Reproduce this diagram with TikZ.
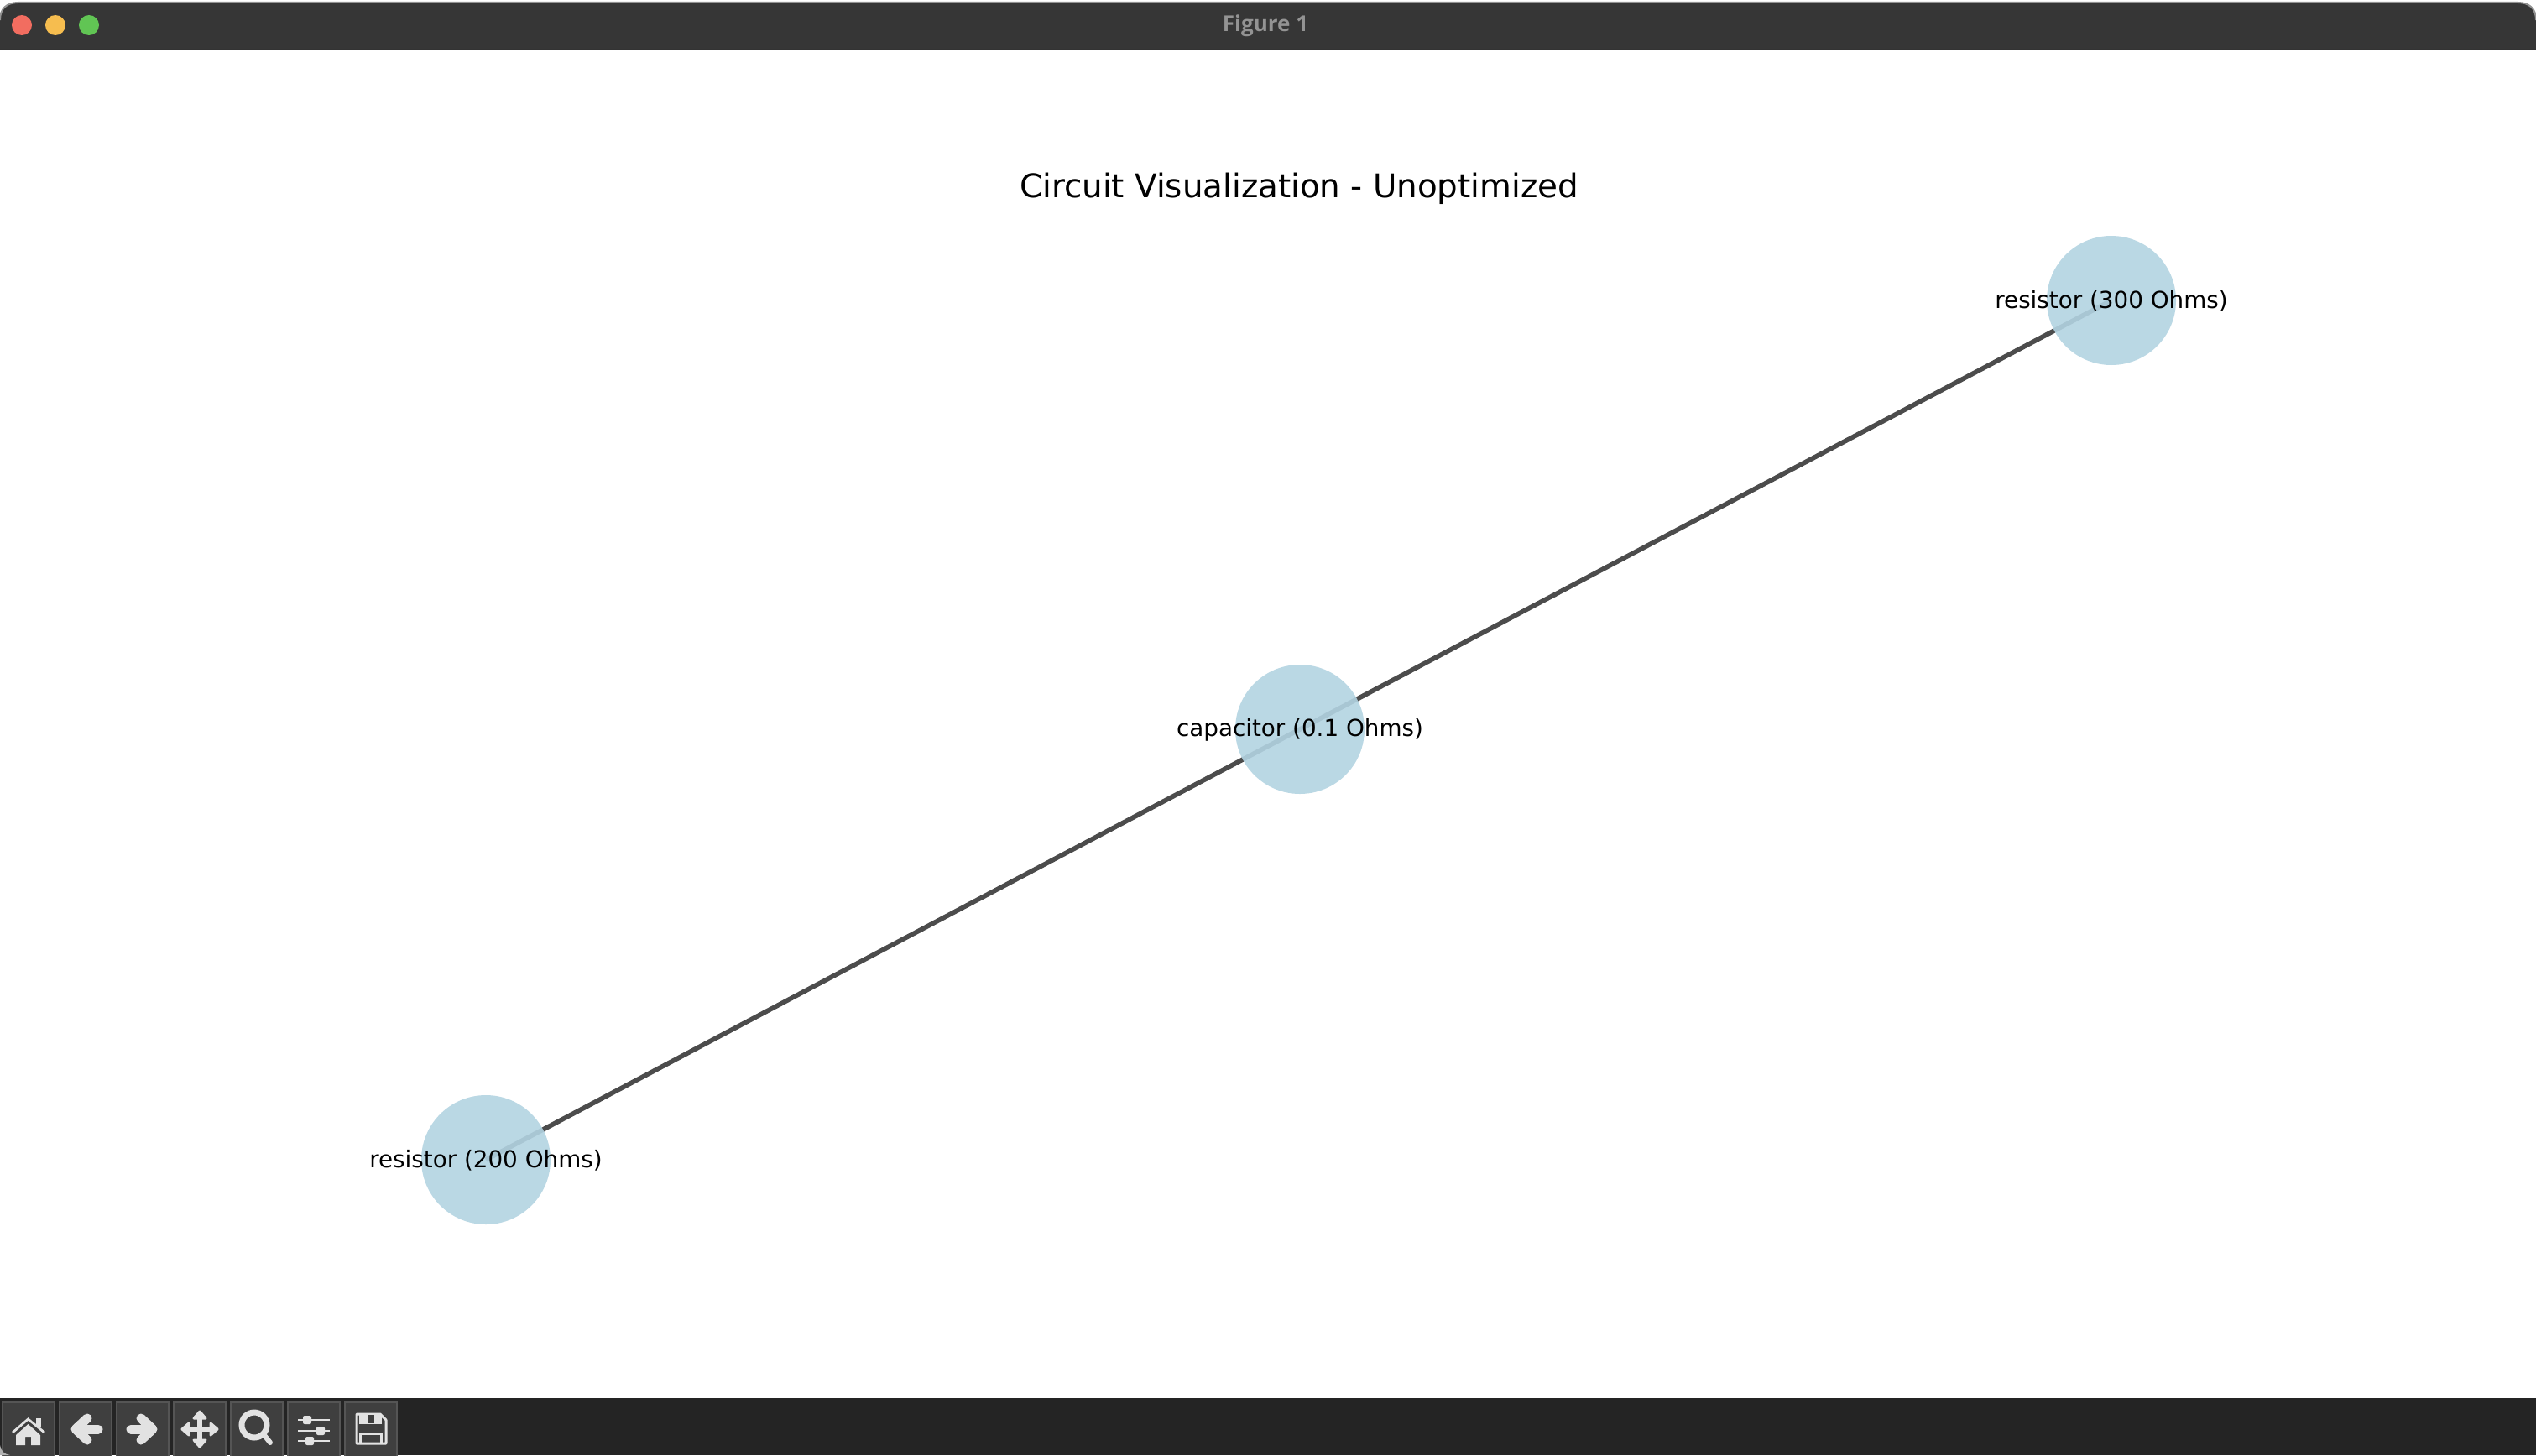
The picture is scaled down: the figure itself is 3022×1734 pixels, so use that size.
\documentclass[tikz,border=0pt]{standalone}
\usepackage{fontspec}
\setmainfont{DejaVu Sans}
\newfontfamily\uifont{Open Sans}
\usetikzlibrary{backgrounds}
\definecolor{barc}{HTML}{363636}
\definecolor{toolc}{HTML}{242424}
\definecolor{btnc}{HTML}{3F3F3F}
\definecolor{btnb}{HTML}{555555}
\definecolor{iconc}{HTML}{E2E2E2}
\definecolor{edgec}{HTML}{4C4C4C}
\definecolor{nodec}{HTML}{B3D4E2}
\definecolor{lampr}{HTML}{F26D60}
\definecolor{lampy}{HTML}{F6BD4F}
\definecolor{lampg}{HTML}{61C554}
\tikzset{
  x=0.5pt,y=-0.5pt,
  vertex/.style={circle,inner sep=0pt,minimum size=77pt,fill=nodec,fill opacity=0.9,draw=none},
  vlabel/.style={inner sep=0pt,yshift=-0.5pt,font=\fontsize{13.9}{14}\selectfont,text=black},
  wire/.style={draw=edgec,line width=2.8pt},
  btn/.style={fill=btnc,draw=btnb,line width=0.7pt},
  icon/.style={fill=iconc,draw=none},
  arrowicon/.style={draw=iconc,line width=5.5pt,line cap=round,line join=round},
  headicon/.style={fill=iconc,draw=iconc,line width=1.5pt,line join=round},
  sliderline/.style={draw=iconc,line width=1.3pt},
  knob/.style={fill=iconc,rounded corners=1pt},
}
\begin{document}
\begin{tikzpicture}
\useasboundingbox (0,0) rectangle (3022,1734);
\begin{scope}[on background layer]
\fill[white] (0,0) rectangle (3022,1734);
\end{scope}
% title bar
\fill[barc] (0,58) -- (0,24) .. controls (0,10) and (8,3) .. (22,3) -- (3000,3) .. controls (3014,3) and (3022,10) .. (3022,24) -- (3022,58) -- cycle;
\draw[gray!85,line width=1pt] (0,24) .. controls (0,10) and (8,3) .. (22,3) -- (3000,3) .. controls (3014,3) and (3022,10) .. (3022,24);
\draw[black!80,line width=0.8pt] (0,58.5) -- (3022,58.5);
\fill[lampr] (26,30) circle[radius=12];
\fill[lampy] (66,30) circle[radius=12];
\fill[lampg] (106,30) circle[radius=12];
\node[inner sep=0pt,text=gray!85,font=\uifont\bfseries\fontsize{13}{13}\selectfont] (wintitle) at (1508,31) {Figure 1};
% toolbar
\fill[toolc] (0,1666) rectangle (3022,1734);
\foreach \i in {0,...,6}{
  \draw[btn] ({3+68*\i},1735) -- ({3+68*\i},1671) -- ({65+68*\i},1671) -- ({65+68*\i},1735);
}
\fill[gray!60] (0,1722) .. controls (1,1729) and (5,1733) .. (12,1734) -- (0,1734) -- cycle;
% home
\fill[icon] (19,1710) -- (19,1722) -- (30,1722) -- (30,1712) -- (37,1712) -- (37,1722) -- (48,1722) -- (48,1710) -- (33.5,1697) -- cycle;
\draw[iconc,line width=1.4pt,line join=miter] (15,1707) -- (33.5,1691) -- (53,1707);
\fill[icon] (43,1690) rectangle (49,1701);
% back
\draw[arrowicon] (117,1703) -- (92,1703);
\draw[arrowicon] (104,1690) -- (90,1703) -- (104,1716);
% forward
\draw[arrowicon] (156,1703) -- (179,1703);
\draw[arrowicon] (168,1690) -- (182,1703) -- (168,1716);
% move
\draw[iconc,line width=3.2pt] (238,1687) -- (238,1719);
\draw[iconc,line width=3.2pt] (222,1703) -- (254,1703);
\draw[headicon] (238,1682) -- (245,1690) -- (231,1690) -- cycle;
\draw[headicon] (238,1724) -- (245,1716) -- (231,1716) -- cycle;
\draw[headicon] (217,1703) -- (225,1696) -- (225,1710) -- cycle;
\draw[headicon] (259,1703) -- (251,1696) -- (251,1710) -- cycle;
% zoom
\draw[iconc,line width=3.5pt] (303,1698) circle[radius=15];
\draw[iconc,line width=3pt,line cap=round] (314,1709) -- (322,1719);
% sliders
\draw[sliderline] (355,1692) -- (393,1692);
\draw[sliderline] (355,1705) -- (393,1705);
\draw[sliderline] (355,1717) -- (393,1717);
\fill[knob] (361,1687) rectangle (371,1697);
\fill[knob] (377,1700) rectangle (387,1710);
\fill[knob] (364,1712) rectangle (374,1722);
% save
\draw[iconc,line width=1.5pt,line join=round] (425,1685) -- (453,1685) -- (460,1692) -- (460,1720) -- (425,1720) -- cycle;
\fill[icon] (428,1685) rectangle (455,1697);
\fill[btnc] (439,1686) rectangle (446,1696);
\draw[iconc,line width=1.5pt] (429,1720) -- (429,1708) -- (454,1708) -- (454,1720);
% graph
\node[vertex] (r200) at (579,1382) {};
\node[vertex] (cap) at (1549,869) {};
\node[vertex] (r300) at (2516,358) {};
\begin{scope}[on background layer]
\draw[wire] (r200.center) -- (cap.center);
\draw[wire] (cap.center) -- (r300.center);
\end{scope}
\node[vlabel] (l200) at (r200.center) {resistor (200 Ohms)};
\node[vlabel] (lcap) at (cap.center) {capacitor (0.1 Ohms)};
\node[vlabel] (l300) at (r300.center) {resistor (300 Ohms)};
\node[inner sep=0pt,font=\fontsize{19.4}{20}\selectfont,text=black] (title) at (1548,225) {Circuit Visualization - Unoptimized};
\end{tikzpicture}
\end{document}
